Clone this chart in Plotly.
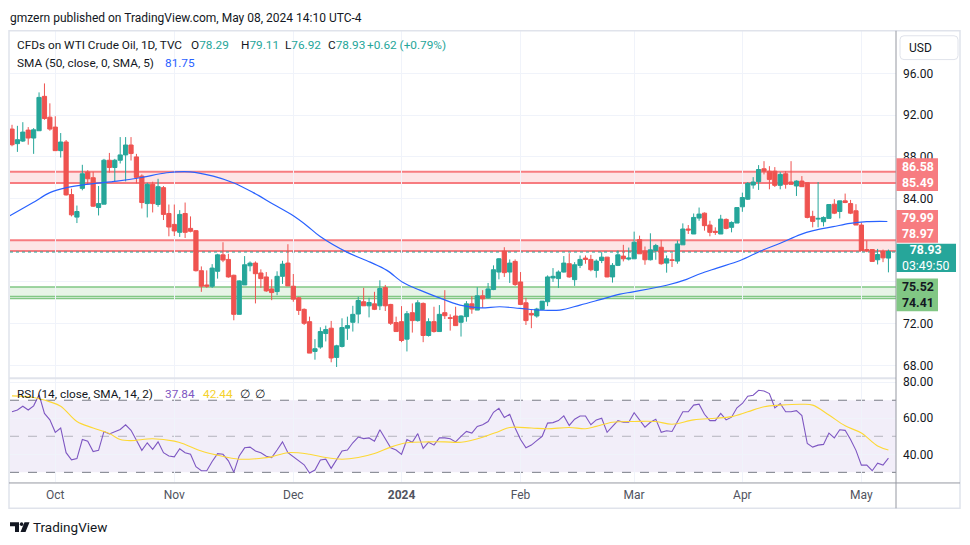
import plotly.graph_objects as go

W, H = 970, 545

# ---------------- data ----------------
opens = [90.67,89.27,89.52,90.57,89.81,90.51,93.81,91.81,90.86,88.60,
         89.43,84.38,82.22,84.98,86.54,86.00,83.14,83.46,87.68,86.98,
         87.68,88.19,89.14,88.00,86.16,83.52,85.37,83.43,85.05,82.57,
         81.52,80.76,82.57,81.14,80.92,77.08,75.71,75.59,77.02,78.60,
         78.16,76.64,72.89,75.71,77.55,77.81,76.86,76.48,75.33,75.08,
         76.54,77.81,75.59,74.48,73.37,72.19,69.33,69.75,71.05,71.56,
         68.76,69.81,71.56,72.13,72.92,74.10,73.71,73.90,73.71,75.46,
         73.84,72.10,72.19,70.51,73.05,72.29,73.94,70.86,72.19,71.24,
         73.05,72.57,72.73,72.13,72.67,73.90,73.30,74.67,74.48,75.27,
         76.95,78.95,76.95,77.97,76.00,74.00,72.98,72.73,73.36,74.10,
         76.38,76.32,76.95,77.75,76.22,77.59,78.29,78.16,77.11,78.06,
         78.38,76.48,77.59,78.48,78.19,78.22,80.06,78.95,78.13,79.02,
         79.33,77.81,78.13,78.00,79.56,81.08,80.60,82.13,82.60,81.46,
         80.86,80.60,82.00,81.24,81.65,83.21,83.94,85.30,85.62,86.86,
         86.63,86.63,85.27,86.38,85.59,85.21,85.68,85.52,82.29,82.03,
         81.78,82.10,83.46,82.76,83.78,83.52,82.83,81.46,79.11,79.11,
         78.13,78.92,78.29]
highs = [91.08,90.98,91.33,90.86,90.76,94.19,95.05,93.14,91.90,90.29,
         89.62,84.95,83.33,87.24,86.73,86.57,85.21,87.81,88.38,87.81,
         89.90,89.90,89.90,88.29,86.32,85.52,85.62,85.90,85.21,83.43,
         83.43,82.89,83.62,82.29,80.98,77.49,77.11,77.71,78.70,79.81,
         78.70,76.70,76.16,78.48,77.97,77.97,77.21,76.95,76.25,77.02,
         78.03,79.62,76.76,74.57,73.46,72.67,70.51,71.65,71.81,72.26,
         69.97,72.51,72.67,73.71,74.57,75.43,74.48,75.05,76.16,75.71,
         73.90,72.67,73.68,73.21,73.94,74.25,74.03,72.51,73.62,73.78,
         75.21,72.89,73.62,72.79,74.16,74.63,75.49,75.21,75.90,77.59,
         78.29,79.33,78.16,78.16,76.95,74.48,73.40,73.52,74.16,76.63,
         77.33,77.11,78.48,78.76,77.90,78.54,78.54,78.60,78.16,78.86,
         78.40,77.81,79.02,79.56,79.30,80.83,80.44,79.40,80.67,79.65,
         80.03,78.54,78.76,79.97,81.62,81.46,82.57,83.14,82.67,81.87,
         81.24,82.44,82.10,81.81,83.14,84.57,85.59,86.06,87.21,87.59,
         87.11,87.02,86.54,86.63,87.59,85.75,86.16,85.52,82.83,85.59,
         82.29,83.43,83.94,83.78,84.48,83.87,83.46,81.71,79.97,79.11,
         79.17,79.11,79.11]
lows = [89.02,88.48,89.43,89.17,88.29,90.51,91.56,90.51,88.60,87.94,
        84.29,82.29,81.65,84.79,85.37,83.20,82.38,83.46,86.48,85.68,
        87.37,85.65,87.65,85.46,83.05,82.19,82.67,83.21,81.94,80.38,
        80.41,80.32,80.22,80.76,77.00,75.05,75.43,75.43,76.32,77.90,
        76.41,72.32,72.89,75.71,77.02,73.94,75.43,75.05,74.25,74.73,
        75.81,75.62,74.10,72.83,71.87,69.17,68.54,69.59,70.29,68.29,
        67.84,69.71,70.44,71.24,72.03,73.71,72.60,73.30,73.30,73.21,
        71.87,71.24,70.22,69.33,71.14,72.19,70.22,70.76,71.14,71.24,
        72.44,71.33,71.78,70.76,72.19,72.95,73.30,73.52,74.41,75.21,
        76.25,76.48,75.90,75.62,73.78,71.87,71.56,72.57,73.30,73.68,
        76.00,75.43,76.90,76.40,75.62,77.33,77.75,77.02,76.41,77.81,
        76.45,75.94,77.52,77.97,78.06,78.22,78.70,77.65,78.06,78.13,
        77.65,76.89,77.43,77.75,79.56,80.60,80.60,81.87,80.92,80.38,
        80.51,80.60,81.05,80.76,81.65,82.73,83.87,84.95,84.83,86.32,
        84.89,85.11,84.89,84.95,85.37,84.25,85.11,82.10,81.24,81.24,
        81.33,82.10,82.51,82.10,83.56,82.51,81.46,79.02,78.86,77.97,
        77.68,77.90,76.92]
closes = [89.17,89.65,90.38,89.81,90.60,93.71,91.68,90.67,88.60,89.43,
          84.35,82.44,82.76,86.38,85.90,83.27,83.52,87.68,86.98,87.68,
          88.19,89.14,88.32,86.03,83.62,85.37,83.52,85.14,82.48,81.27,
          80.89,82.48,80.76,80.86,77.08,75.59,75.59,77.33,78.60,78.10,
          76.48,72.89,76.10,77.65,77.81,76.79,76.32,75.14,74.98,76.54,
          77.71,75.62,74.35,73.27,72.03,69.17,69.59,71.24,71.43,68.70,
          69.87,71.62,71.81,72.89,74.22,73.71,74.03,73.37,75.37,73.71,
          72.03,71.24,70.38,72.95,72.29,74.00,70.86,72.19,71.24,72.89,
          72.76,72.51,71.81,72.73,73.90,73.40,74.67,74.38,75.33,77.17,
          78.22,76.89,77.81,75.75,73.84,72.29,72.83,73.40,74.16,76.48,
          76.54,76.95,77.81,76.48,77.65,78.16,78.16,77.17,78.00,78.38,
          76.48,77.59,78.60,78.22,78.29,79.81,78.70,78.13,79.08,79.49,
          77.75,78.22,78.06,79.65,81.08,80.98,82.19,82.51,81.40,80.76,
          80.76,82.03,81.14,81.71,83.14,84.10,85.46,85.59,86.79,86.63,
          85.84,85.27,86.32,85.37,85.37,85.68,85.14,82.19,81.81,82.10,
          82.19,83.43,82.60,83.78,83.62,82.60,81.46,79.02,79.02,77.97,
          78.63,78.31,78.93]

sma_idx = [-0.4, 3.9, 7.0, 10.1, 13.8, 19.4, 23.7, 28.6, 32.9, 37.2, 40.9, 44.6,
           48.3, 52.0, 54.5, 56.9, 61.9, 66.2, 69.3, 72.3, 75.4, 78.5, 82.8,
           86.5, 90.2, 93.9, 97.6, 101.3, 105.0, 108.7, 112.4, 114.8, 121.0,
           124.7, 127.2, 130.3, 134.6, 138.3, 142.0, 145.7, 148.1, 151.8,
           154.9, 158.0, 161.8]
sma_val = [82.35, 83.62, 84.57, 85.05, 85.37, 85.68, 86.00, 86.48, 86.57, 86.16,
           85.52, 84.57, 83.46, 82.35, 81.40, 80.38, 78.86, 77.90, 77.11, 75.94,
           75.21, 74.57, 73.78, 73.52, 73.62, 73.46, 73.30, 73.30, 73.78, 74.30,
           74.83, 75.05, 75.68, 76.25, 76.79, 77.33, 78.06, 78.95, 79.71, 80.54,
           80.92, 81.30, 81.62, 81.78, 81.80]

rsi = [63.6,64.6,66.7,64.6,66.9,73.1,62.7,59.1,52.2,54.6,
       40.9,36.9,37.6,48.2,47.3,41.5,42.2,52.7,51.3,52.7,
       53.8,56.4,53.3,47.8,42.2,46.4,42.8,46.9,40.9,39.1,
       38.6,43.1,40.9,40.0,33.1,30.9,30.9,36.0,40.4,40.0,
       36.4,30.0,39.1,43.6,44.0,41.8,40.9,38.9,38.2,42.4,
       46.9,40.9,38.7,36.4,34.2,29.6,31.3,36.9,37.3,32.2,
       36.7,41.8,42.4,46.4,49.6,48.7,49.1,47.3,53.6,48.2,
       43.6,42.4,40.0,48.2,46.7,51.5,43.3,46.7,45.1,49.1,
       49.1,48.6,46.9,50.0,52.7,51.8,55.5,56.4,58.2,63.3,
       65.5,60.4,62.2,54.6,48.2,43.6,45.1,47.6,50.0,57.3,
       57.6,58.7,61.3,56.0,59.5,61.3,61.3,56.4,59.1,60.0,
       52.2,55.5,58.7,57.8,57.8,63.1,59.1,55.1,57.8,59.5,
       52.2,53.1,52.7,58.2,63.6,63.6,67.3,67.8,62.2,58.7,
       58.7,62.7,59.1,60.6,65.8,68.2,72.2,72.8,75.5,75.1,
       73.7,65.8,68.2,63.6,63.6,64.2,61.5,46.0,44.0,45.1,
       45.5,51.8,49.1,53.6,53.3,48.2,42.2,34.0,34.0,30.9,
       35.1,34.0,37.84]

rsi_ma_idx = [0, 4, 7, 9, 12, 15, 18, 20, 22, 26, 30, 32, 35, 38, 42, 46, 48, 51,
              55, 58, 61, 64, 67, 70, 73, 77, 80, 83, 87, 90, 92, 96, 99, 103,
              106, 108, 111, 115, 119, 122, 126, 130, 133, 136, 139, 142, 146,
              148, 151, 154, 157, 160, 162]
rsi_ma = [72.4, 71.5, 69.1, 66.7, 58.2, 54.6, 51.5, 48.2, 47.6, 48.6, 47.3, 45.5,
          41.8, 39.5, 37.3, 37.8, 38.6, 40.9, 40.0, 38.2, 37.3, 38.2, 40.4, 44.0,
          46.4, 46.9, 46.9, 46.7, 49.5, 52.7, 54.9, 54.6, 54.2, 54.9, 54.2, 55.5,
          57.8, 58.2, 58.2, 56.7, 59.1, 60.0, 60.9, 63.6, 66.4, 67.3, 67.8, 67.3,
          61.8, 55.8, 51.8, 44.6, 42.44]

month_idx = [8, 30, 52, 72, 94, 115, 135, 157]
month_lbl = ["Oct", "Nov", "Dec", "<b>2024</b>", "Feb", "Mar", "Apr", "May"]
# the 80 level grid line is hidden under the 79.99 zone edge, its label under the price boxes
price_ticks = [68, 72, 76, 84, 88, 92, 96]
price_tick_lbl = ["68.00", "72.00", "", "84.00", "88.00", "92.00", "96.00"]
rsi_ticks = [40, 60, 80]
rsi_tick_lbl = ["40.00", "60.00", "80.00"]

red_zones = [(86.58, 85.49), (79.99, 78.97)]
green_zone = (75.52, 74.60, 74.41)
last_price = 78.93

# ---------------- helpers ----------------
def px(x):
    return x / W

def py(y):
    return 1 - y / H

UP, DN = "#26a69a", "#ef5350"
FONT = "Roboto, sans-serif"
TXT = "#131722"
GRID = "#f0f3fa"

xs = list(range(len(closes)))
X_RANGE = [-0.37, 163.4]

fig = go.Figure()

fig.add_trace(go.Candlestick(
    x=xs, open=opens, high=highs, low=lows, close=closes,
    increasing=dict(line=dict(color=UP, width=1), fillcolor=UP),
    decreasing=dict(line=dict(color=DN, width=1), fillcolor=DN),
    whiskerwidth=0, xaxis="x", yaxis="y", showlegend=False, hoverinfo="skip"))

fig.add_trace(go.Scatter(x=sma_idx, y=sma_val, mode="lines", line=dict(color="#2962ff", width=1.2, shape="spline"),
                         xaxis="x", yaxis="y", showlegend=False, hoverinfo="skip"))

fig.add_trace(go.Scatter(x=xs, y=rsi, mode="lines", line=dict(color="#7e57c2", width=1.1),
                         xaxis="x2", yaxis="y2", showlegend=False, hoverinfo="skip"))
fig.add_trace(go.Scatter(x=rsi_ma_idx, y=rsi_ma, mode="lines", line=dict(color="#fdd835", width=1.1, shape="spline"),
                         xaxis="x2", yaxis="y2", showlegend=False, hoverinfo="skip"))

shapes = []
# zones
for top, bot in red_zones:
    shapes.append(dict(type="rect", xref="x domain", yref="y", x0=0, x1=1, y0=bot, y1=top,
                       fillcolor="rgba(247,124,128,0.2)", line=dict(width=0), layer="below"))
    for v in (top, bot):
        shapes.append(dict(type="line", xref="x domain", yref="y", x0=0, x1=1, y0=v, y1=v,
                           line=dict(color="#f77c80", width=2), layer="below"))
g_top, g_mid, g_bot = green_zone
shapes.append(dict(type="rect", xref="x domain", yref="y", x0=0, x1=1, y0=g_mid, y1=g_top,
                   fillcolor="rgba(129,199,132,0.2)", line=dict(width=0), layer="below"))
for v in green_zone:
    shapes.append(dict(type="line", xref="x domain", yref="y", x0=0, x1=1, y0=v, y1=v,
                       line=dict(color="#81c784", width=1.5), layer="below"))
shapes.append(dict(type="line", xref="x domain", yref="y", x0=0, x1=1, y0=last_price - 0.06, y1=last_price - 0.06,
                   line=dict(color=UP, width=1, dash="dot"), layer="below"))

# RSI band and levels
shapes.append(dict(type="rect", xref="x2 domain", yref="y2", x0=0, x1=1, y0=30, y1=70,
                   fillcolor="rgba(126,87,194,0.1)", line=dict(width=0), layer="below"))
for v, c in ((70, "#787b86"), (30, "#787b86"), (50, "rgba(120,123,134,0.5)")):
    shapes.append(dict(type="line", xref="x2 domain", yref="y2", x0=0, x1=1, y0=v, y1=v,
                       line=dict(color=c, width=1, dash="dash"), layer="below"))

# frame and separators
shapes.append(dict(type="rect", xref="paper", yref="paper", x0=px(9), x1=px(960), y0=py(508), y1=py(27),
                   line=dict(color="#e0e3eb", width=1.5)))
shapes.append(dict(type="line", xref="paper", yref="paper", x0=px(9), x1=px(896), y0=py(377), y1=py(377),
                   line=dict(color="#e0e3eb", width=2)))
shapes.append(dict(type="line", xref="paper", yref="paper", x0=px(9), x1=px(960), y0=py(482.5), y1=py(482.5),
                   line=dict(color="#9598a1", width=1)))
shapes.append(dict(type="line", xref="paper", yref="paper", x0=px(896), x1=px(896), y0=py(508), y1=py(27),
                   line=dict(color="#9598a1", width=1)))
# USD box
shapes.append(dict(type="path", xref="paper", yref="paper",
                   path=f"M {px(904)},{py(32)} L {px(954)},{py(32)} Q {px(958)},{py(32)} {px(958)},{py(36)} "
                        f"L {px(958)},{py(52)} Q {px(958)},{py(56)} {px(954)},{py(56)} L {px(904)},{py(56)} "
                        f"Q {px(900)},{py(56)} {px(900)},{py(52)} L {px(900)},{py(36)} Q {px(900)},{py(32)} {px(904)},{py(32)} Z",
                   line=dict(color="#e0e3eb", width=1), fillcolor="white"))

# right side price label boxes
def box(y0, y1, color, x1=938):
    shapes.append(dict(type="rect", xref="paper", yref="paper", x0=px(896.5), x1=px(x1), y0=py(y1), y1=py(y0),
                       fillcolor=color, line=dict(width=0)))

box(155.5, 188.5, "#f77c80")
box(207.5, 240.5, "#f77c80")
box(241.5, 270, UP, 956)
box(276.5, 309.5, "#81c784")

# TradingView logo
shapes.append(dict(type="path", xref="paper", yref="paper",
                   path=f"M {px(10)},{py(522)} L {px(19)},{py(522)} L {px(19)},{py(532)} L {px(15)},{py(532)} "
                        f"L {px(15)},{py(526)} L {px(10)},{py(526)} Z", fillcolor=TXT, line=dict(width=0)))
shapes.append(dict(type="circle", xref="paper", yref="paper", x0=px(19.8), x1=px(23.4), y0=py(525.8), y1=py(522.2),
                   fillcolor=TXT, line=dict(width=0)))
shapes.append(dict(type="path", xref="paper", yref="paper",
                   path=f"M {px(24.5)},{py(522)} L {px(29.5)},{py(522)} L {px(25.5)},{py(532)} L {px(20.5)},{py(532)} Z",
                   fillcolor=TXT, line=dict(width=0)))

ann = []
def text(x, y, s, size=13, color=TXT, anchor="left", bold=False):
    ann.append(dict(x=px(x), y=py(y), xref="paper", yref="paper", text=(f"<b>{s}</b>" if bold else s),
                    showarrow=False, xanchor=anchor, yanchor="middle", borderpad=0, borderwidth=0,
                    font=dict(family=FONT, size=size, color=color)))

LS = 11.8
text(10, 14, "gmzern published on TradingView.com, May 08, 2024 14:10 UTC-4", 12)
text(17, 41, "CFDs on WTI Crude Oil, 1D, TVC", LS)
G = UP
text(191, 41, f"O<span style='color:{G}'>78.29</span>", LS)
text(241, 41, f"H<span style='color:{G}'>79.11</span>", LS)
text(285, 41, f"L<span style='color:{G}'>76.92</span>", LS)
text(328, 41, f"C<span style='color:{G}'>78.93</span>", LS)
text(367, 41, "+0.62 (+0.79%)", LS, G)
text(17, 59, "SMA (50, close, 0, SMA, 5)", LS)
text(165, 59, "81.75", LS, "#2962ff")
text(17, 393, "RSI (14, close, SMA, 14, 2)", LS)
text(165, 393, "37.84", LS, "#7e57c2")
text(203, 393, "42.44", LS, "#f5d22c")
text(240, 393, "∅", LS)
text(255, 393, "∅", LS)
text(909, 44, "USD", 12)

# right labels (two lines per box)
text(902, 172.5, "<b>86.58</b><br><b>85.49</b>", 12.3, "white")
text(902, 224, "<b>79.99</b><br><b>78.97</b>", 12.3, "white")
text(902, 256, "<b>78.93</b><br>03:49:50", 12.3, "white")
text(902, 293, "<b>75.52</b><br><b>74.41</b>", 12.3, TXT)

text(33, 527, "TradingView", 13.5)

axis_common = dict(showline=False, zeroline=False, fixedrange=True, ticks="")
fig.update_layout(
    width=W, height=H, autosize=False,
    margin=dict(l=0, r=0, t=0, b=0),
    paper_bgcolor="white", plot_bgcolor="white",
    font=dict(family=FONT, color=TXT, size=12),
    boxgap=0.22, boxgroupgap=0,
    showlegend=False,
    xaxis=dict(domain=[px(10), px(896)], range=X_RANGE, anchor="y", tickvals=month_idx,
               showticklabels=False, showgrid=True, gridcolor=GRID, gridwidth=1,
               rangeslider=dict(visible=False), **axis_common),
    yaxis=dict(domain=[py(377), py(27)], range=[66.76, 100.10], anchor="x", side="right",
               tickvals=price_ticks, ticktext=price_tick_lbl, showgrid=True, gridcolor=GRID,
               tickfont=dict(size=12, color=TXT, family=FONT), ticklabelstandoff=6, **axis_common),
    xaxis2=dict(domain=[px(10), px(896)], range=X_RANGE, anchor="y2", tickvals=month_idx, ticktext=month_lbl,
                showgrid=True, gridcolor=GRID, tickfont=dict(size=12, color="#50535e", family=FONT),
                ticklabelstandoff=4, **axis_common),
    yaxis2=dict(domain=[py(482), py(378)], range=[24.38, 81.66], anchor="x2", side="right",
                tickvals=rsi_ticks, ticktext=rsi_tick_lbl, showgrid=True, gridcolor=GRID,
                tickfont=dict(size=12, color=TXT, family=FONT), ticklabelstandoff=6, **axis_common),
    shapes=shapes, annotations=ann,
)

fig.write_html("out.html", config={"displayModeBar": False},
               post_script="document.body.style.margin='0px';document.body.style.padding='0px';")
